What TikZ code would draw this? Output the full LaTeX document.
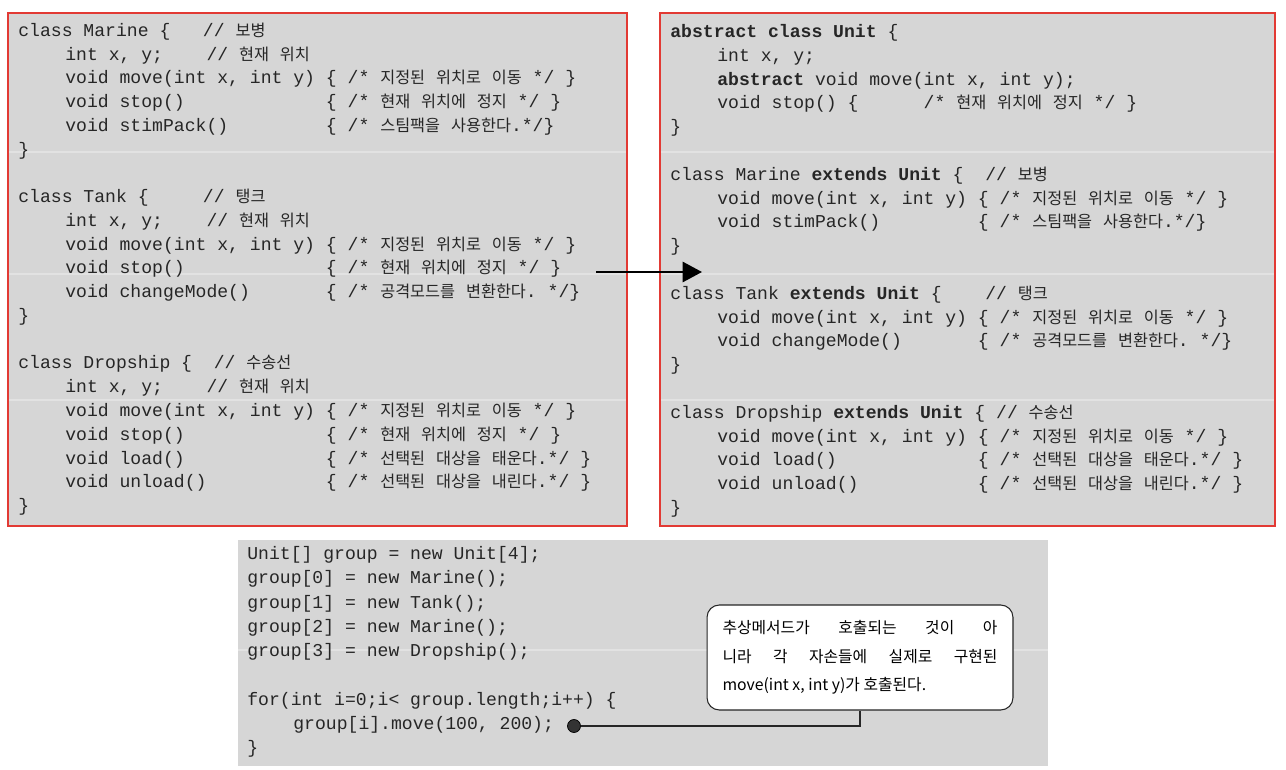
\documentclass[tikz,border=0pt]{standalone}
\usepackage{fontspec}
\usetikzlibrary{arrows.meta}

\newfontfamily\codefont{Liberation Mono}
\newfontfamily\krfont[Scale=0.9]{Noto Sans CJK KR}

\definecolor{boxgray}{RGB}{214,214,214}
\definecolor{boxred}{RGB}{226,58,52}
\definecolor{seamgray}{RGB}{226,226,226}

% hangul syllables are set in the korean font
\XeTeXinterchartokenstate=1
\newXeTeXintercharclass\hangulclass
\newcount\hangulchar
\hangulchar="AC00
\loop
	\XeTeXcharclass\hangulchar=\hangulclass
	\ifnum\hangulchar<"D7A3
	\advance\hangulchar by 1
\repeat
\XeTeXinterchartoks 0 \hangulclass = {\begingroup\krfont}
\XeTeXinterchartoks 4095 \hangulclass = {\begingroup\krfont}
\XeTeXinterchartoks \hangulclass 0 = {\endgroup}
\XeTeXinterchartoks \hangulclass 4095 = {\endgroup}

\begin{document}
\begin{tikzpicture}[x=0.02cm,y=-0.02cm,
		codebox/.style={fill=boxgray,draw=boxred,line width=1.1pt},
		seam/.style={seamgray,line width=0.6pt},
		code/.style={anchor=base west,inner sep=0pt,text=black!85,
			font=\codefont\fontsize{10.3}{12.4}\selectfont\frenchspacing},
		fatarrow/.style={line width=1.2pt,-{Triangle[length=11pt,width=11.5pt]}},
		note/.style={draw=black!85,fill=white,line width=0.6pt,rounded corners=7pt,
			minimum width=6.12cm,minimum height=2.1cm,inner sep=0pt,align=left,
			font=\krfont\fontsize{10}{16.2}\selectfont},
		pin/.style={circle,fill=black!80,draw=black,inner sep=0pt,minimum size=0.26cm},
		pinline/.style={line width=1.2pt,black!85}]
	\useasboundingbox (0,0) rectangle (1286,770);

	% the three code boxes
	\filldraw[codebox] (8,13) rectangle (627,526);
	\filldraw[codebox] (660,13) rectangle (1275,526);
	\fill[boxgray] (238,540) rectangle (1048,766);
	\foreach \y in {152,274,400}
	{
		\draw[seam] (9,\y) -- (626,\y);
		\draw[seam] (661,\y) -- (1274,\y);
	}
	\draw[seam] (238,650) -- (1048,650);

	% left box: three separate classes
	\def\leftbase{36.5}
	\def\leftstep{23.75}
	\foreach \n/\x/\txt in {1/18/{class Marine \{~~~// 보병},
		2/65/{int x, y;~~~~// 현재 위치},
		3/65/{void move(int x, int y) \{ /* 지정된 위치로 이동 */ \}},
		4/65/{void stop()~~~~~~~~~~~~~\{ /* 현재 위치에 정지 */ \}},
		5/65/{void stimPack()~~~~~~~~~\{ /* 스팀팩을 사용한다.*/\}},
		6/18/{\}},
		8/18/{class Tank \{~~~~~// 탱크},
		9/65/{int x, y;~~~~// 현재 위치},
		10/65/{void move(int x, int y) \{ /* 지정된 위치로 이동 */ \}},
		11/65/{void stop()~~~~~~~~~~~~~\{ /* 현재 위치에 정지 */ \}},
		12/65/{void changeMode()~~~~~~~\{ /* 공격모드를 변환한다. */\}},
		13/18/{\}},
		15/18/{class Dropship \{~~// 수송선},
		16/65/{int x, y;~~~~// 현재 위치},
		17/65/{void move(int x, int y) \{ /* 지정된 위치로 이동 */ \}},
		18/65/{void stop()~~~~~~~~~~~~~\{ /* 현재 위치에 정지 */ \}},
		19/65/{void load()~~~~~~~~~~~~~\{ /* 선택된 대상을 태운다.*/ \}},
		20/65/{void unload()~~~~~~~~~~~\{ /* 선택된 대상을 내린다.*/ \}},
		21/18/{\}}}
	{
		\node[code] (left\n) at (\x,{\leftbase+\leftstep*(\n-1)}) {\txt};
	}

	% right box: the same classes under an abstract Unit
	\def\rightbase{37.5}
	\def\rightstep{23.8}
	\foreach \n/\x/\txt in {1/670/{\textbf{abstract class Unit} \{},
		2/717/{int x, y;},
		3/717/{\textbf{abstract} void move(int x, int y);},
		4/717/{void stop() \{~~~~~~/* 현재 위치에 정지 */ \}},
		5/670/{\}},
		7/670/{class Marine \textbf{extends Unit} \{~~// 보병},
		8/717/{void move(int x, int y) \{ /* 지정된 위치로 이동 */ \}},
		9/717/{void stimPack()~~~~~~~~~\{ /* 스팀팩을 사용한다.*/\}},
		10/670/{\}},
		12/670/{class Tank \textbf{extends Unit} \{~~~~// 탱크},
		13/717/{void move(int x, int y) \{ /* 지정된 위치로 이동 */ \}},
		14/717/{void changeMode()~~~~~~~\{ /* 공격모드를 변환한다. */\}},
		15/670/{\}},
		17/670/{class Dropship \textbf{extends Unit} \{ // 수송선},
		18/717/{void move(int x, int y) \{ /* 지정된 위치로 이동 */ \}},
		19/717/{void load()~~~~~~~~~~~~~\{ /* 선택된 대상을 태운다.*/ \}},
		20/717/{void unload()~~~~~~~~~~~\{ /* 선택된 대상을 내린다.*/ \}},
		21/670/{\}}}
	{
		\node[code] (right\n) at (\x,{\rightbase+\rightstep*(\n-1)}) {\txt};
	}

	% bottom box: the group of units
	\def\groupbase{559.5}
	\def\groupstep{24.25}
	\foreach \n/\x/\txt in {1/247/{Unit[] group = new Unit[4];},
		2/247/{group[0] = new Marine();},
		3/247/{group[1] = new Tank();},
		4/247/{group[2] = new Marine();},
		5/247/{group[3] = new Dropship();},
		7/247/{for(int i=0;i< group.length;i++) \{},
		8/293/{group[i].move(100, 200);},
		9/247/{\}}}
	{
		\node[code] (group\n) at (\x,{\groupbase+\groupstep*(\n-1)}) {\txt};
	}

	% arrow between the boxes
	\coordinate (arrowfrom) at (596,272);
	\coordinate (arrowto) at (702,272);
	\draw[fatarrow] (arrowfrom) -- (arrowto);

	% callout on the move call
	\node[note] (note) at (860,657.5) {\makebox[5.5cm][s]{추상메서드가 호출되는 것이 아}\\
		\makebox[5.5cm][s]{니라 각 자손들에 실제로 구현된}\\
		move(int x, int y)가 호출된다.};
	\node[pin] (pin) at (574,726) {};
	\draw[pinline] (pin) -| (note.south);
\end{tikzpicture}
\end{document}
